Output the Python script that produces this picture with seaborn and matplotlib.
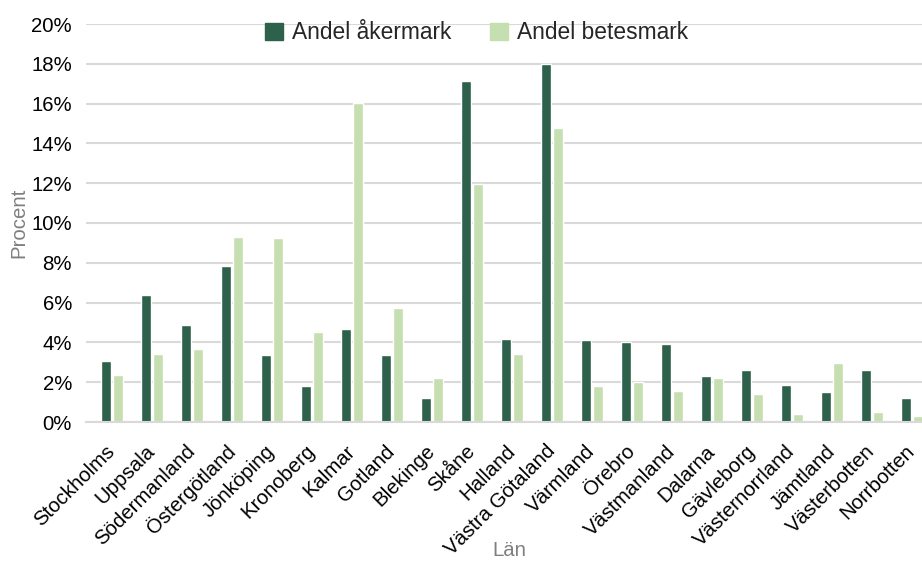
import pandas as pd
import matplotlib
matplotlib.use("Agg")
import matplotlib.pyplot as plt
import matplotlib.patches as mpatches
import seaborn as sns
from matplotlib.ticker import FuncFormatter, MultipleLocator

lan = ["Stockholms", "Uppsala", "Södermanland", "Östergötland", "Jönköping",
       "Kronoberg", "Kalmar", "Gotland", "Blekinge", "Skåne", "Halland",
       "Västra Götaland", "Värmland", "Örebro", "Västmanland", "Dalarna",
       "Gävleborg", "Västernorrland", "Jämtland", "Västerbotten", "Norrbotten"]

akermark = [3.05, 6.36, 4.85, 7.82, 3.37, 1.81, 4.65, 3.37, 1.19, 17.12, 4.16,
            18.0, 4.13, 4.01, 3.91, 2.30, 2.60, 1.85, 1.53, 2.60, 1.23]
betesmark = [2.36, 3.44, 3.69, 9.29, 9.24, 4.53, 16.02, 5.73, 2.23, 11.97, 3.44,
             14.77, 1.81, 2.01, 1.54, 2.23, 1.39, 0.42, 2.94, 0.52, 0.29]

series = ["Andel åkermark", "Andel betesmark"]
colors = ["#2E614B", "#C5DFB1"]


def main():
    df = pd.DataFrame({"Län": lan, series[0]: akermark, series[1]: betesmark})
    df = df.melt(id_vars="Län", var_name="Typ", value_name="Procent")

    sns.set_style("white")
    plt.rcParams["font.family"] = ["Liberation Sans", "DejaVu Sans"]

    fig = plt.figure(figsize=(9.22, 5.63), dpi=100)
    ax = fig.add_axes([86 / 922, 1 - 422 / 563, 1 - 86 / 922, (422 - 24) / 563])

    sns.barplot(data=df, x="Län", y="Procent", hue="Typ", palette=colors,
                width=0.6, gap=0.12, ax=ax, legend=False, saturation=1)

    ax.set_ylim(0, 20)
    ax.set_xlim(-0.65, 20.25)
    ax.yaxis.set_major_locator(MultipleLocator(2))
    ax.yaxis.set_major_formatter(FuncFormatter(lambda v, p: f"{v:.0f}%"))
    ax.grid(axis="y", color="#D9D9D9", linewidth=1.5)
    ax.set_axisbelow(True)
    for s in ["top", "right", "left"]:
        ax.spines[s].set_visible(False)
    ax.spines["bottom"].set_color("#D9D9D9")
    ax.spines["bottom"].set_linewidth(1.5)
    ax.tick_params(axis="both", length=0, labelsize=14.7, colors="#000000")
    ax.tick_params(axis="y", pad=10)
    ax.tick_params(axis="x", pad=19)
    plt.setp(ax.get_xticklabels(), rotation=45, ha="right", va="center",
             rotation_mode="anchor")

    ax.set_ylabel("Procent", fontsize=14.7, color="#7F7F7F", labelpad=2)
    ax.set_xlabel("Län", fontsize=14.7, color="#7F7F7F")
    ax.xaxis.set_label_coords(0.507, -0.30)

    handles = [mpatches.Patch(color=c, label=l) for c, l in zip(colors, series)]
    fig.legend(handles=handles, loc="center", bbox_to_anchor=(0.517, 0.942),
               ncol=2, frameon=False, fontsize=16.4, handlelength=0.8,
               handleheight=0.8, columnspacing=1.7, handletextpad=0.4,
               borderpad=0)

    fig.savefig("out.png", dpi=100)


if __name__ == "__main__":
    main()
